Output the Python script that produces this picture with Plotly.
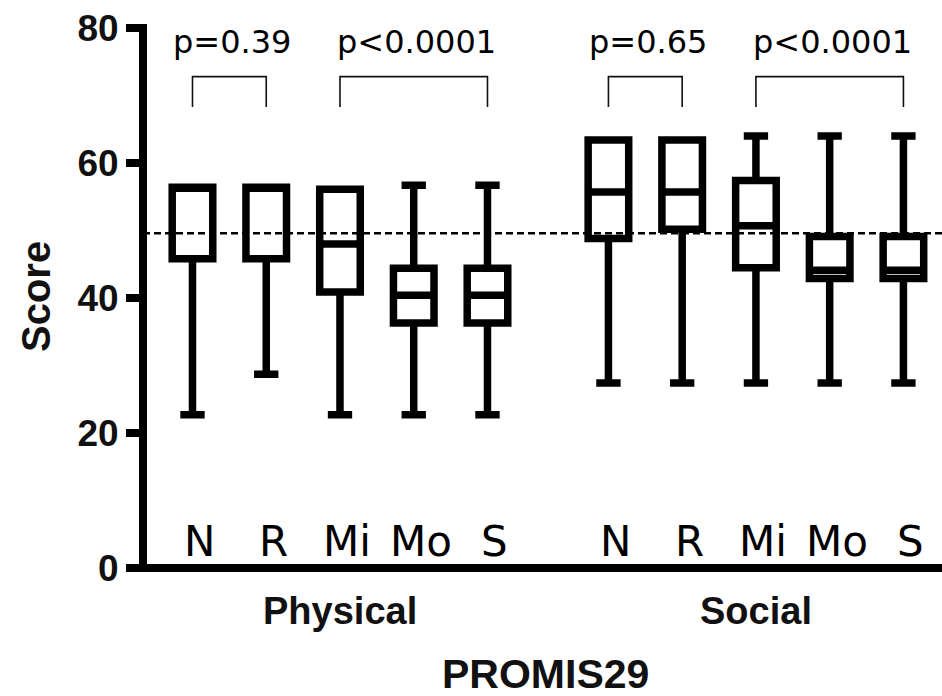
import plotly.graph_objects as go

# ---------------- data ----------------
groups = ["Physical", "Social"]
categories = ["N", "R", "Mi", "Mo", "S"]

physical_min = [22.7, 28.7, 22.7, 22.7, 22.7]
physical_q1 = [45.8, 45.8, 40.9, 36.3, 36.3]
physical_median = [56.4, 56.4, 48.0, 40.4, 40.4]
physical_q3 = [56.4, 56.4, 56.1, 44.4, 44.4]
physical_max = [56.4, 56.4, 56.1, 56.7, 56.7]

social_min = [27.4, 27.4, 27.4, 27.4, 27.4]
social_q1 = [48.8, 50.2, 44.5, 42.9, 42.9]
social_median = [55.7, 55.7, 50.7, 44.1, 44.1]
social_q3 = [63.4, 63.4, 57.4, 49.1, 49.1]
social_max = [63.4, 63.4, 64.0, 64.0, 64.0]

reference_score = 49.6

# comparisons: (group index, first category index, last category index, label)
comparisons = [
    (0, 0, 1, "p=0.39"),
    (0, 2, 4, "p<0.0001"),
    (1, 0, 1, "p=0.65"),
    (1, 2, 4, "p<0.0001"),
]

y_ticks = [0, 20, 40, 60, 80]

# ---------------- layout helpers ----------------
group_start = [1.0, 6.64]
positions = [[g + i for i in range(len(categories))] for g in group_start]

W, H = 942, 696
ML, MR, MT, MB = 143, 0, 28, 128
PW, PH = W - ML - MR, H - MT - MB
x_range = [0.329, 11.163]
y_range = [0, 80]

fig = go.Figure()

stats = [
    (physical_min, physical_q1, physical_median, physical_q3, physical_max),
    (social_min, social_q1, social_median, social_q3, social_max),
]

for gi, (mn, q1, med, q3, mx) in enumerate(stats):
    fig.add_trace(go.Box(
        x=positions[gi],
        lowerfence=mn, q1=q1, median=med, q3=q3, upperfence=mx,
        width=0.55,
        whiskerwidth=0.6,
        line=dict(color="black", width=7.5),
        fillcolor="rgba(0,0,0,0)",
        boxpoints=False,
        hoverinfo="skip",
        showlegend=False,
        name=groups[gi],
    ))

shapes = []
annotations = []

# reference dashed line
shapes.append(dict(type="line", xref="paper", x0=0, x1=1, yref="y",
                   y0=reference_score, y1=reference_score,
                   line=dict(color="black", width=2.5, dash="7px,4px"),
                   layer="below"))

# axis lines
shapes.append(dict(type="line", xref="paper", yref="paper", x0=0, x1=0,
                   y0=-4.0 / PH, y1=1 + 4.0 / PH,
                   line=dict(color="black", width=8)))
shapes.append(dict(type="line", xref="paper", yref="paper", x0=-4.0 / PW, x1=1,
                   y0=0, y1=0,
                   line=dict(color="black", width=8)))

# brackets + p values
bracket_top, bracket_bottom = 72.8, 68.3
for gi, a, b, label in comparisons:
    xa = positions[gi][a]
    xb = positions[gi][b]
    shapes.append(dict(type="path", xref="x", yref="y",
                       path=f"M {xa},{bracket_bottom} L {xa},{bracket_top} L {xb},{bracket_top} L {xb},{bracket_bottom}",
                       line=dict(color="#111", width=1.6)))
    annotations.append(dict(x=(xa + xb) / 2, y=77.9, xref="x", yref="y",
                            text=label, showarrow=False, xanchor="center", yanchor="middle",
                            xshift=3,
                            font=dict(family="DejaVu Sans", size=32, color="black")))

# category labels inside the plot
for gi in range(len(groups)):
    for ci, c in enumerate(categories):
        annotations.append(dict(x=positions[gi][ci], y=3.9, xref="x", yref="y",
                                text=c, showarrow=False, xanchor="center", yanchor="middle",
                                xshift=7,
                                font=dict(family="DejaVu Sans", size=42, color="black")))

# group labels
for gi, g in enumerate(groups):
    annotations.append(dict(x=positions[gi][2], y=(568 - 611) / PH, xref="x", yref="paper",
                            text=f"<b>{g}</b>", showarrow=False, xanchor="center", yanchor="middle",
                            font=dict(family="Liberation Sans", size=38, color="#111")))

# x-axis title
annotations.append(dict(x=(545 - ML) / PW, y=(568 - 674) / PH, xref="paper", yref="paper",
                        text="<b>PROMIS29</b>", showarrow=False, xanchor="center", yanchor="middle",
                        font=dict(family="Liberation Sans", size=41, color="#111")))

# y-axis title
annotations.append(dict(x=(36 - ML) / PW, y=(568 - 297) / PH, xref="paper", yref="paper",
                        text="<b>Score</b>", showarrow=False, textangle=-90,
                        xanchor="center", yanchor="middle",
                        font=dict(family="Liberation Sans", size=40, color="#111")))

fig.update_layout(
    width=W, height=H,
    margin=dict(l=ML, r=MR, t=MT, b=MB, pad=0),
    paper_bgcolor="white", plot_bgcolor="white",
    shapes=shapes, annotations=annotations,
    xaxis=dict(range=x_range, showgrid=False, zeroline=False, showline=False,
               showticklabels=False, ticks="", fixedrange=True),
    yaxis=dict(range=y_range, showgrid=False, zeroline=False, showline=False,
               tickvals=y_ticks, ticktext=[str(v) for v in y_ticks],
               ticks="outside", ticklen=16, tickwidth=8, tickcolor="black",
               tickfont=dict(family="Liberation Sans", size=37, color="#111", weight="bold"),
               fixedrange=True),
    showlegend=False,
)

fig.write_html(
    "out.html",
    config={"displayModeBar": False},
    post_script="document.body.style.margin='0';document.body.style.padding='0';document.body.style.overflow='hidden';",
)
